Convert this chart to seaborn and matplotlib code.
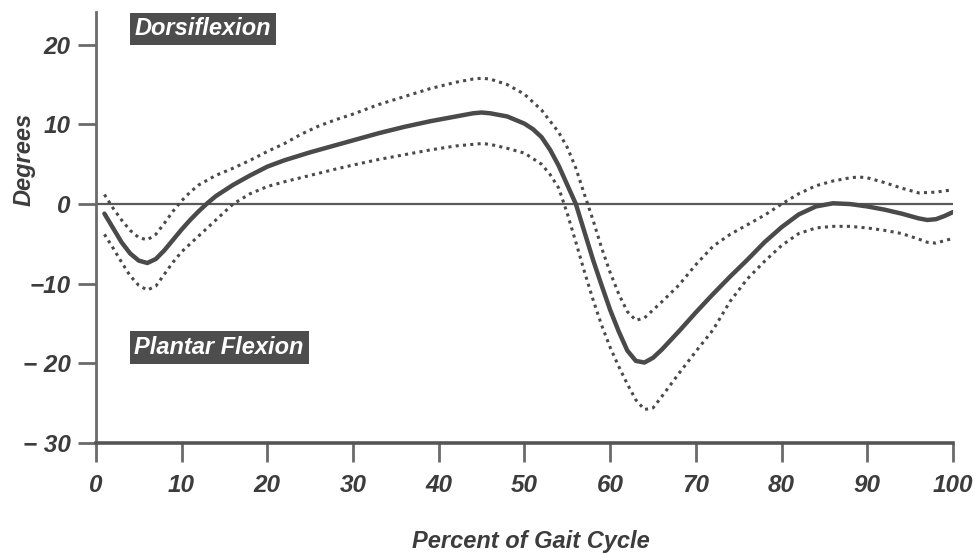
import matplotlib
matplotlib.use("Agg")
import matplotlib.pyplot as plt
import seaborn as sns
import pandas as pd

# ---- data ----
mean_x = [1, 2, 3, 4, 5, 6, 7, 8, 9, 10, 11, 12, 13, 14, 16, 18, 20, 22, 25, 28, 30, 33, 36, 39, 42, 44, 45, 46,
          48, 50, 51, 52, 53, 54, 55, 56, 57, 58, 59, 60, 61, 62, 63, 64, 65, 66, 68, 70, 72, 74, 76, 78, 80,
          82, 84, 86, 88, 90, 92, 94, 96, 97, 98, 99, 100]
mean_y = [-1.2, -3.0, -4.8, -6.2, -7.1, -7.4, -6.9, -5.8, -4.5, -3.2, -2.0, -0.9, 0.1, 1.0, 2.4, 3.6, 4.7, 5.5,
          6.5, 7.4, 8.0, 8.9, 9.7, 10.4, 11.0, 11.4, 11.5, 11.4, 11.0, 10.1, 9.4, 8.4, 6.8, 4.8, 2.4, 0.0,
          -3.5, -7.0, -10.2, -13.3, -16.0, -18.4, -19.7, -19.9, -19.3, -18.3, -16.0, -13.6, -11.3, -9.1,
          -7.0, -4.8, -2.9, -1.3, -0.3, 0.1, 0.0, -0.3, -0.7, -1.2, -1.8, -2.0, -1.9, -1.5, -1.0]

upper_x = [1, 2, 3, 4, 5, 6, 7, 8, 9, 10, 11, 12, 14, 16, 18, 20, 22, 24, 26, 28, 30, 33, 36, 39, 42, 44, 45,
           46, 48, 50, 52, 54, 55, 56, 57, 58, 59, 60, 61, 62, 63, 64, 65, 66, 68, 70, 72, 74, 76, 78, 80,
           82, 84, 86, 88, 89, 90, 92, 94, 96, 98, 100]
upper_y = [1.2, -0.5, -2.0, -3.3, -4.2, -4.5, -3.8, -2.4, -0.9, 0.4, 1.5, 2.4, 3.6, 4.5, 5.5, 6.6, 7.6, 8.8,
           9.8, 10.6, 11.3, 12.5, 13.5, 14.5, 15.3, 15.7, 15.8, 15.7, 15.0, 13.8, 11.8, 9.0, 7.1, 4.5, 1.2,
           -2.0, -5.5, -8.6, -11.3, -13.5, -14.6, -14.3, -13.3, -12.3, -10.2, -7.6, -5.3, -3.8, -2.6, -1.4,
           0.0, 1.3, 2.3, 2.9, 3.3, 3.4, 3.3, 2.7, 2.0, 1.4, 1.5, 1.8]

lower_x = [1, 2, 3, 4, 5, 6, 7, 8, 9, 10, 11, 12, 14, 16, 18, 20, 22, 25, 28, 30, 33, 36, 39, 42, 44, 45, 46,
           48, 50, 52, 53, 54, 55, 56, 57, 58, 59, 60, 61, 62, 63, 64, 65, 66, 68, 70, 72, 74, 76, 78, 80,
           82, 84, 86, 88, 90, 92, 94, 96, 97, 98, 100]
lower_y = [-3.8, -5.5, -7.3, -9.0, -10.2, -10.8, -10.3, -8.8, -7.3, -6.0, -5.0, -4.0, -2.0, 0.0, 1.3, 2.2,
           2.8, 3.6, 4.4, 4.9, 5.6, 6.2, 6.8, 7.3, 7.5, 7.6, 7.5, 7.0, 6.4, 5.0, 3.7, 2.0, -1.2, -4.8, -8.5,
           -12.0, -15.2, -18.0, -20.4, -22.6, -24.6, -25.8, -25.6, -24.2, -21.3, -18.5, -15.8, -12.2, -9.4,
           -7.2, -5.2, -3.7, -3.0, -2.8, -2.8, -3.0, -3.3, -3.7, -4.4, -4.8, -4.9, -4.3]

x_ticks = [0, 10, 20, 30, 40, 50, 60, 70, 80, 90, 100]
y_ticks = [-30, -20, -10, 0, 10, 20]
y_tick_labels = ["\u2212 30", "\u2212 20", "\u221210", "0", "10", "20"]

# ---- style ----
sns.set_style("white")
plt.rcParams["font.family"] = ["Liberation Sans", "DejaVu Sans"]
plt.rcParams["font.weight"] = "bold"
plt.rcParams["font.style"] = "italic"

line_col = "#4a4a4a"
axis_col = "#6a6a6a"
text_col = "#3c3c3c"

fig = plt.figure(figsize=(9.78, 5.53), dpi=100)
ax = fig.add_axes([0.098, 0.199, 0.8765, 0.779])

df_mean = pd.DataFrame({"x": mean_x, "y": mean_y})
df_up = pd.DataFrame({"x": upper_x, "y": upper_y})
df_lo = pd.DataFrame({"x": lower_x, "y": lower_y})

ax.axhline(0, xmin=0, xmax=1, color="#5a5a5a", lw=1.6, zorder=1)
sns.lineplot(data=df_mean, x="x", y="y", ax=ax, color=line_col, lw=3.2, estimator=None, sort=False)
for d in (df_up, df_lo):
    sns.lineplot(data=d, x="x", y="y", ax=ax, color=line_col, lw=2.2, estimator=None, sort=False,
                 linestyle=(0, (1, 1.4)))

ax.set_xlim(0, 100)
ax.set_ylim(-30, 24.1)
ax.set_xticks(x_ticks)
ax.set_xticklabels([str(t) for t in x_ticks])
ax.set_yticks(y_ticks)
ax.set_yticklabels(y_tick_labels)

for s in ("top", "right"):
    ax.spines[s].set_visible(False)
ax.spines["left"].set_color(axis_col)
ax.spines["left"].set_linewidth(2.0)
ax.spines["bottom"].set_color("#555555")
ax.spines["bottom"].set_linewidth(2.6)

ax.tick_params(axis="y", left=True, direction="out", length=13, width=2, color=axis_col, pad=5,
               labelsize=17.5, labelcolor=text_col)
ax.tick_params(axis="x", bottom=True, direction="out", length=14, width=2, color=axis_col, pad=8,
               labelsize=17.5, labelcolor=text_col)
for lab in ax.get_xticklabels() + ax.get_yticklabels():
    lab.set_fontweight("bold")
    lab.set_fontstyle("italic")

ax.set_xlabel("Percent of Gait Cycle", fontsize=17, fontweight="bold", fontstyle="italic",
              color=text_col)
ax.set_ylabel("Degrees", fontsize=17, fontweight="bold", fontstyle="italic",
              color=text_col)
ax.xaxis.set_label_coords(0.508, -0.228)
ax.yaxis.set_label_coords(-0.084, 0.657)
ax.xaxis.label.set_va("center")
ax.yaxis.label.set_va("center")

box = dict(facecolor="#4d4d4d", edgecolor="none", boxstyle="square,pad=0.2")
ax.text(4.5, 22.0, "Dorsiflexion", fontsize=17, fontweight="bold", fontstyle="italic",
        color="white", va="center", ha="left", bbox=box)
ax.text(4.5, -18.0, "Plantar Flexion", fontsize=17, fontweight="bold", fontstyle="italic",
        color="white", va="center", ha="left", bbox=box)

fig.savefig("out.png", dpi=100)
